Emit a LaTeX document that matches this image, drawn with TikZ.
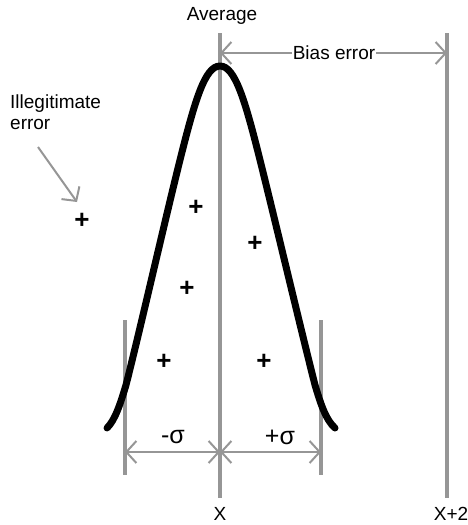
\documentclass[tikz,border=0pt]{standalone}
\usepackage{fontspec}
\setmainfont{Liberation Sans}
\usetikzlibrary{arrows.meta}
\definecolor{lg}{RGB}{150,150,150}
\tikzset{
  vline/.style={draw=lg, line width=3.5pt},
  dim/.style={draw=lg, line width=2pt, {Straight Barb[length=10pt,width=22pt]}-{Straight Barb[length=10pt,width=22pt]}},
  ptr/.style={draw=lg, line width=2pt, -{Straight Barb[length=10pt,width=22pt]}},
  lbl/.style={font=\fontsize{19}{21}\selectfont, inner sep=1pt},
  sig/.style={font=\fontsize{25}{27}\selectfont, inner sep=0pt},
  pl/.style={font=\fontsize{26}{28}\selectfont\bfseries, inner sep=0pt},
  curve/.style={draw=black, line width=7pt, line cap=round, line join=round}
}
\begin{document}
\begin{tikzpicture}[x=1pt,y=-1pt]
\useasboundingbox (0,0) rectangle (468,525);
% vertical lines
\coordinate (ctop) at (220,33);  \coordinate (cbot) at (220,498);
\coordinate (rtop) at (447,33);  \coordinate (rbot) at (447,498);
\coordinate (ltop) at (125,320); \coordinate (lbot) at (125,475);
\coordinate (stop) at (321,320); \coordinate (sbot) at (321,475);
\draw[vline] (ctop) -- (cbot);
\draw[vline] (rtop) -- (rbot);
\draw[vline] (ltop) -- (lbot);
\draw[vline] (stop) -- (sbot);
% curve
\coordinate (c0) at (107,428); \coordinate (c1) at (126,385); \coordinate (c2) at (180,160);
\coordinate (pk) at (220,66);
\coordinate (c3) at (260,160); \coordinate (c4) at (315,385); \coordinate (c5) at (335,428);
\draw[curve] (c0) .. controls (115,420) and (120,405) .. (c1)
  .. controls (140,330) and (165,220) .. (c2)
  .. controls (195,100) and (205,66) .. (pk)
  .. controls (235,66) and (245,100) .. (c3)
  .. controls (275,220) and (301,330) .. (c4)
  .. controls (321,405) and (326,420) .. (c5);
% bias error
\coordinate (ba) at (220,53); \coordinate (bb) at (447,53);
\draw[dim] (ba) -- (bb);
\node[lbl, fill=white] (bias) at (334,53) {Bias error};
% sigma arrows
\coordinate (sa) at (125,452); \coordinate (sm) at (220,452); \coordinate (sb) at (321,452);
\draw[dim] (sa) -- (sm);
\draw[dim] (sm) -- (sb);
\node[sig] (msig) at (173,437) {-σ};
\node[sig] (psig) at (280,437) {+σ};
% labels
\node[lbl] (avg) at (222,16) {Average};
\node[lbl] (x) at (220,514) {X};
\node[lbl] (x2) at (451,514) {X+2};
\node[lbl, anchor=north west, align=left] (ill) at (9,94) {Illegitimate\\error};
\coordinate (pa) at (38,147); \coordinate (pb) at (77,202);
\draw[ptr] (pa) -- (pb);
% pluses
\node[pl] (p1) at (82,221) {+};
\node[pl] (p2) at (196,208) {+};
\node[pl] (p3) at (255,244) {+};
\node[pl] (p4) at (187,289) {+};
\node[pl] (p5) at (164,362) {+};
\node[pl] (p6) at (264,362) {+};
\end{tikzpicture}
\end{document}
